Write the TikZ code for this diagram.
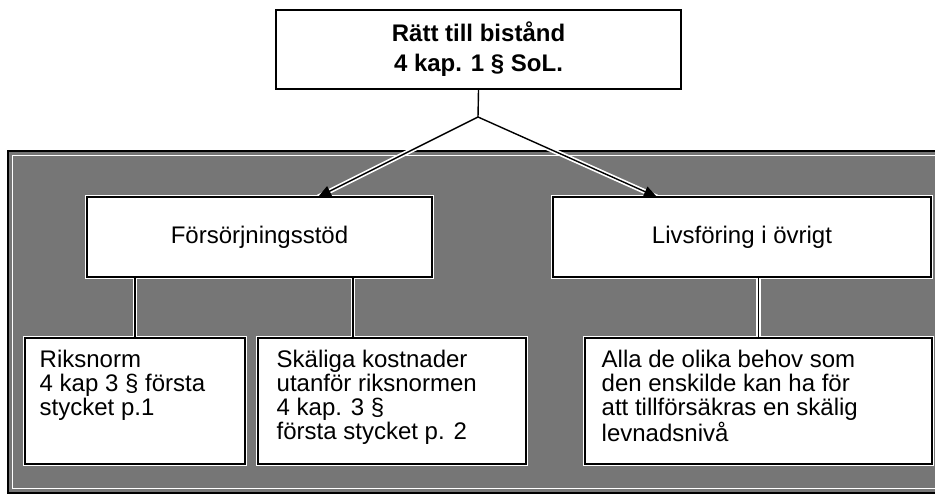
\documentclass[tikz,border=0pt]{standalone}
\usepackage{fontspec}
\setmainfont{Liberation Sans}
\usetikzlibrary{arrows.meta,calc}
\definecolor{panelgray}{RGB}{118,118,118}
\begin{document}
\begin{tikzpicture}[x=0.5pt,y=-0.5pt,
  topbox/.style={draw=black, line width=1pt, fill=white, minimum width=202.5pt, minimum height=39.5pt, inner sep=0pt, align=center, font=\fontsize{12}{15}\selectfont\bfseries},
  midbox/.style={draw=white, double=black, line width=0.7pt, double distance=0.7pt, fill=white, minimum height=40pt, inner sep=0pt, font=\fontsize{12}{14}\selectfont},
  lowbox/.style={midbox, minimum height=63pt},
  lowtxt/.style={anchor=north west, inner sep=0pt, align=left, font=\fontsize{12}{12}\selectfont},
  under/.style={white, line width=2.4pt},
  link/.style={black, line width=0.7pt},
  arrowlink/.style={link, -{Triangle[length=6.5pt,width=5.5pt]}}
]
\useasboundingbox (0,0) rectangle (935,495);
% textured panel
\fill[panelgray] (8,151) rectangle (940,493);
\draw[black, line width=1pt] (8,151) rectangle (940,493);
\draw[white, line width=0.7pt] (12.5,155.5) rectangle (940,488.5);

% coordinates
\coordinate (j) at (478,117);
\coordinate (aL) at (318,197);
\coordinate (aR) at (657,197);
\coordinate (skx) at (353,338);

% white underlays of connectors
\draw[under] (j) -- (aL);
\draw[under] (j) -- (aR);
\draw[under] (135,277) -- (135,338);
\draw[under] (353,277) -- (353,338);
\draw[under] (758.5,277) -- (758.5,338);

% boxes
\node[topbox] (top) at (478.5,49.5) {Rätt till bistånd\\4 kap. 1 § SoL.};
\node[midbox, minimum width=172.5pt] (fs) at (259.5,237) {Försörjningsstöd};
\node[midbox, minimum width=189pt] (lv) at (742,237) {Livsföring i övrigt};
\node[lowbox, minimum width=110pt] (rn) at (135,401) {};
\node[lowbox, minimum width=134pt] (sk) at (392,401) {};
\node[lowbox, minimum width=173.5pt] (al) at (758.5,401) {};

% texts of lower boxes
\node[lowtxt] (rnt) at ([xshift=7.5pt,yshift=-6pt]rn.north west) {Riksnorm\\4 kap 3 § första\\stycket p.1};
\node[lowtxt] (skt) at ([xshift=9.5pt,yshift=-6pt]sk.north west) {Skäliga kostnader\\utanför riksnormen\\4 kap. 3 §\\första stycket p. 2};
\node[lowtxt] (alt) at ([xshift=8.5pt,yshift=-6pt]al.north west) {Alla de olika behov som\\den enskilde kan ha för\\att tillförsäkras en skälig\\levnadsnivå};

% connectors
\draw[link] (top.south) -- (j);
\draw[arrowlink] (j) -- (aL);
\draw[arrowlink] (j) -- (aR);
\draw[link] (rn.north |- fs.south) -- (rn.north);
\draw[link] (skx |- fs.south) -- (skx);
\draw[link] (al.north |- lv.south) -- (al.north);
\end{tikzpicture}
\end{document}
